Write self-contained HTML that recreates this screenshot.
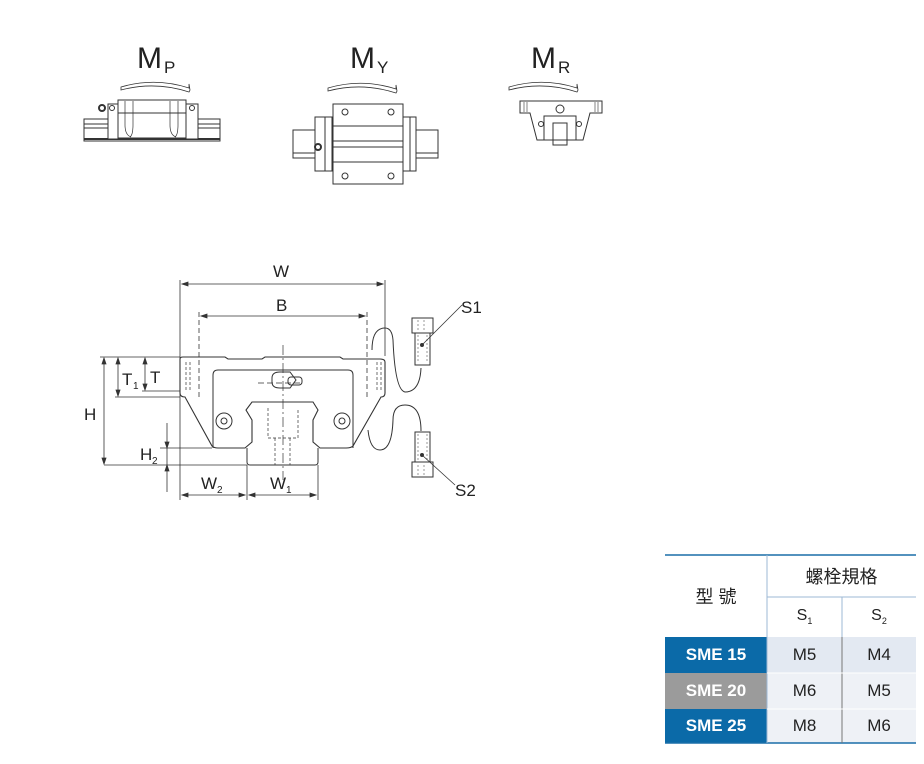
<!DOCTYPE html>
<html><head><meta charset="utf-8"><style>
body{margin:0;background:#fff;width:924px;height:764px;overflow:hidden;font-family:"Liberation Sans",sans-serif;position:relative}
svg{position:absolute;left:0;top:0}
.t{position:absolute;font-family:"Liberation Sans","Noto Sans CJK TC",sans-serif;text-align:center;color:#222}
</style></head><body>
<svg width="924" height="764" viewBox="0 0 924 764" fill="none" stroke="#333" stroke-width="1">
<!-- labels top -->
<g font-family="Liberation Sans" fill="#222" stroke="none">
<text x="137" y="68" font-size="30">M</text><text x="164" y="73" font-size="17">P</text>
<text x="350" y="68" font-size="30">M</text><text x="377" y="73" font-size="17">Y</text>
<text x="531" y="68" font-size="30">M</text><text x="558" y="73" font-size="17">R</text>
</g>
<!-- arrows -->
<path d="M121 87 Q155 77 189 88 L189 84 L190 90 L189 92 Q155 81 121 90 Z" stroke-width="0.8"/>
<path d="M328 88 Q362 78 396 89 L396 85 L397 91 L396 93 Q362 82 328 91 Z" stroke-width="0.8"/>
<path d="M509 87 Q543 77 577 88 L577 84 L578 90 L577 92 Q543 81 509 90 Z" stroke-width="0.8"/>
<!-- MP -->
<rect x="84" y="119" width="136" height="22"/><line x1="84" y1="124" x2="220" y2="124"/><line x1="84" y1="128" x2="220" y2="128"/><line x1="84" y1="139" x2="220" y2="139" stroke-width="2"/>
<rect x="108" y="104" width="90" height="35" fill="#fff"/><rect x="118" y="100" width="68" height="38" fill="#fff"/>
<line x1="118" y1="113" x2="186" y2="113"/><path d="M125 101v24q0 10 6 12M133 101v24q0 10 -3 12M170 101v24q0 10 6 12M178 101v24q0 10 -3 12" stroke-width="0.7"/>
<circle cx="112" cy="108" r="2.5"/><circle cx="192" cy="108" r="2.5"/><circle cx="102" cy="108" r="3" stroke-width="2"/>
<!-- MY -->
<rect x="293" y="130" width="145" height="28"/><line x1="293" y1="153" x2="438" y2="153"/>
<rect x="315" y="117" width="101" height="54" fill="#fff"/><rect x="325" y="117" width="7" height="54"/><rect x="403" y="117" width="7" height="54"/>
<rect x="333" y="104" width="70" height="80" fill="#fff"/>
<line x1="333" y1="126" x2="403" y2="126"/><line x1="333" y1="141" x2="403" y2="141"/><line x1="333" y1="147" x2="403" y2="147"/><line x1="333" y1="162" x2="403" y2="162"/>
<circle cx="345" cy="112" r="3"/><circle cx="391" cy="112" r="3"/><circle cx="345" cy="176" r="3"/><circle cx="391" cy="176" r="3"/>
<circle cx="318" cy="147" r="3" stroke-width="2"/>
<!-- MR -->
<path d="M520 101 H602 V113 L590 113 L583 140 H537 L530 113 L520 113 Z"/>
<rect x="544" y="116" width="32" height="24"/><rect x="553" y="123" width="14" height="22"/>
<circle cx="560" cy="109" r="4"/><circle cx="541" cy="124" r="2.5"/><circle cx="579" cy="124" r="2.5"/>
<path d="M524 102v10M527 102v10M595 102v10M598 102v10" stroke-width="0.6"/>
<!-- main dims -->
<g stroke-width="0.8">
<line x1="180" y1="280" x2="180" y2="500"/><line x1="385" y1="280" x2="385" y2="356"/>
<line x1="182" y1="284" x2="383" y2="284"/><path d="M182 284l6-2v4zM383 284l-6-2v4z" fill="#333"/>
<line x1="199" y1="312" x2="199" y2="400" stroke-dasharray="5 3"/><line x1="367" y1="312" x2="367" y2="400" stroke-dasharray="5 3"/>
<line x1="201" y1="316" x2="365" y2="316"/><path d="M201 316l6-2v4zM365 316l-6-2v4z" fill="#333"/>
<line x1="100" y1="357" x2="180" y2="357"/><line x1="115" y1="397" x2="180" y2="397"/><line x1="142" y1="391" x2="180" y2="391"/>
<line x1="104" y1="465" x2="247" y2="465"/>
<line x1="104" y1="358" x2="104" y2="464"/><path d="M104 358l-2 6h4zM104 464l-2-6h4z" fill="#333"/>
<line x1="118" y1="358" x2="118" y2="396"/><path d="M118 358l-2 6h4zM118 396l-2-6h4z" fill="#333"/>
<line x1="145" y1="358" x2="145" y2="390"/><path d="M145 358l-2 6h4zM145 390l-2-6h4z" fill="#333"/>
<line x1="167" y1="423" x2="167" y2="492"/><line x1="160" y1="448" x2="212" y2="448"/><path d="M167 448l-2-6h4zM167 465l-2 6h4z" fill="#333"/>
<line x1="247" y1="465" x2="247" y2="500"/><line x1="318" y1="465" x2="318" y2="500"/>
<line x1="182" y1="495" x2="245" y2="495"/><line x1="249" y1="495" x2="316" y2="495"/>
<path d="M182 495l6-2v4zM245 495l-6-2v4zM249 495l6-2v4zM316 495l-6-2v4z" fill="#333"/>
</g>
<!-- block -->
<path d="M180 359 Q180 357 183 357 H225 L228 359 H262 L265 357 H340 L343 359 H380 Q385 359 385 362 V393 Q385 397 381 397 L353 446 Q351 448 346 448 H320 L313 442 V420 L318 410 L313 402 H252 L246 410 L252 420 V442 L245 448 H218 Q214 448 212 446 L185 397 Q180 397 180 393 Z" stroke-width="1.1"/>
<path d="M213 448 V375 Q213 370 218 370 H348 Q353 370 353 375 V448" />
<path d="M247 448 V462 Q247 465 250 465 H315 Q318 465 318 462 V448"/>
<path d="M268 408v30h30v-30M275 438v27M290 438v27" stroke-dasharray="3 2" stroke-width="0.7"/>
<path d="M186 362v30M190 362v30M377 362v30M381 362v30" stroke-dasharray="3 2" stroke-width="0.7"/>
<circle cx="224" cy="421" r="8"/><circle cx="224" cy="421" r="3"/><circle cx="342" cy="421" r="8"/><circle cx="342" cy="421" r="3"/>
<path d="M272 378 Q272 372 280 372 H290 L296 380 L290 388 H280 Q272 388 272 382 Z"/><rect x="288" y="377" width="14" height="8" rx="3"/>
<path d="M283 345V480" stroke-dasharray="10 3 2 3" stroke-width="0.7"/><path d="M258 383H300" stroke-dasharray="6 3" stroke-width="0.7"/>
<!-- loops -->
<path d="M372 350 Q372 328 385 328 Q392 328 393 340 Q395 390 405 392 Q420 392 421 368"/>
<path d="M421 431 Q421 405 405 405 Q393 405 393 420 Q392 450 380 450 Q370 450 368 430"/>
<!-- bolts -->
<rect x="412" y="318" width="21" height="15"/><rect x="415" y="333" width="15" height="32"/><path d="M418 320v10M424 320v10M418 335v28M427 335v28" stroke-width="0.5" stroke-dasharray="2 2"/>
<rect x="415" y="432" width="15" height="30"/><rect x="412" y="462" width="21" height="15"/><path d="M418 434v26M427 434v26M418 465v10M424 465v10" stroke-width="0.5" stroke-dasharray="2 2"/>
<circle cx="422" cy="345" r="1.5" fill="#333"/><circle cx="422" cy="455" r="1.5" fill="#333"/>
<line x1="422" y1="345" x2="462" y2="305" stroke-width="0.8"/><line x1="422" y1="455" x2="455" y2="485" stroke-width="0.8"/>
<g font-family="Liberation Sans" fill="#222" stroke="none" font-size="17">
<text x="273" y="277">W</text><text x="276" y="311">B</text>
<text x="461" y="313">S1</text><text x="455" y="496">S2</text>
<text x="84" y="420">H</text><text x="122" y="385">T</text><text x="133" y="389" font-size="10">1</text><text x="150" y="383">T</text>
<text x="140" y="460">H</text><text x="152" y="464" font-size="10">2</text>
<text x="201" y="489">W</text><text x="217" y="493" font-size="10">2</text>
<text x="270" y="489">W</text><text x="286" y="493" font-size="10">1</text>
</g>
<!-- table -->
<rect x="767" y="637" width="149" height="36" fill="#e3e9f2" stroke="none"/>
<rect x="767" y="673" width="149" height="70" fill="#eef1f6" stroke="none"/>
<rect x="665" y="637" width="102" height="36" fill="#0b6aa8" stroke="none"/>
<rect x="665" y="673" width="102" height="36" fill="#9b9b9b" stroke="none"/>
<rect x="665" y="709" width="102" height="34" fill="#0b6aa8" stroke="none"/>
<g stroke="#1a6ea8" stroke-width="1.5"><line x1="665" y1="555" x2="916" y2="555"/><line x1="665" y1="743" x2="916" y2="743"/></g>
<g stroke="#9db8d4" stroke-width="1"><line x1="767" y1="597" x2="916" y2="597"/><line x1="767" y1="555" x2="767" y2="743"/><line x1="842" y1="597" x2="842" y2="637"/></g>
<g stroke="#777" stroke-width="1"><line x1="842" y1="637" x2="842" y2="743"/><line x1="767" y1="673" x2="916" y2="673" stroke="#fff"/><line x1="767" y1="709" x2="916" y2="709" stroke="#fff"/></g>
</svg>
<div class="t" style="left:665px;top:583px;width:102px;font-size:18px">型 號</div>
<div class="t" style="left:767px;top:563px;width:149px;font-size:18px">螺栓規格</div>
<div class="t" style="left:767px;top:607px;width:75px;font-size:16px">S<sub style="font-size:9px">1</sub></div>
<div class="t" style="left:842px;top:607px;width:74px;font-size:16px">S<sub style="font-size:9px">2</sub></div>
<div class="t" style="left:665px;top:645px;width:102px;font-size:17px;font-weight:bold;color:#fff">SME 15</div>
<div class="t" style="left:665px;top:681px;width:102px;font-size:17px;font-weight:bold;color:#fff">SME 20</div>
<div class="t" style="left:665px;top:716px;width:102px;font-size:17px;font-weight:bold;color:#fff">SME 25</div>
<div class="t" style="left:767px;top:645px;width:75px;font-size:17px">M5</div>
<div class="t" style="left:842px;top:645px;width:74px;font-size:17px">M4</div>
<div class="t" style="left:767px;top:681px;width:75px;font-size:17px">M6</div>
<div class="t" style="left:842px;top:681px;width:74px;font-size:17px">M5</div>
<div class="t" style="left:767px;top:716px;width:75px;font-size:17px">M8</div>
<div class="t" style="left:842px;top:716px;width:74px;font-size:17px">M6</div>
</body></html>
